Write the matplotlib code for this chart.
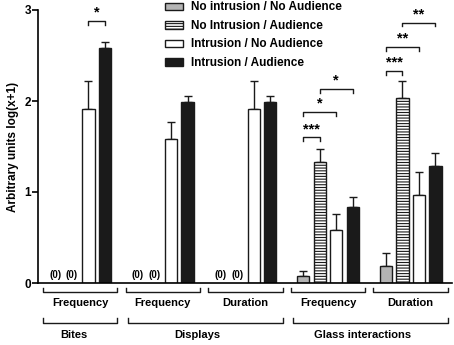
import matplotlib.pyplot as plt
import matplotlib.patches as mpatches
import numpy as np

plt.rcParams['font.family'] = ['Liberation Sans', 'DejaVu Sans']
plt.rcParams['hatch.linewidth'] = 0.8

# data
measures = ['Frequency', 'Frequency', 'Duration', 'Frequency', 'Duration']
behaviours = ['Bites', 'Displays', 'Glass interactions']
behaviour_groups = [(0, 0), (1, 2), (3, 4)]
series_names = ['No intrusion / No Audience', 'No Intrusion / Audience',
                'Intrusion / No Audience', 'Intrusion / Audience']
no_no = [0, 0, 0, 0.08, 0.19]
no_aud = [0, 0, 0, 1.33, 2.03]
int_no = [1.91, 1.58, 1.91, 0.58, 0.97]
int_aud = [2.58, 1.99, 1.99, 0.84, 1.29]
no_no_err = [0, 0, 0, 0.05, 0.14]
no_aud_err = [0, 0, 0, 0.14, 0.19]
int_no_err = [0.31, 0.19, 0.31, 0.18, 0.25]
int_aud_err = [0.07, 0.06, 0.07, 0.11, 0.14]
# (group, bar a, bar b, height, label)
signif = [(0, 2, 3, 2.88, '*'),
          (3, 0, 1, 1.60, '***'), (3, 0, 2, 1.88, '*'), (3, 1, 3, 2.13, '*'),
          (4, 0, 1, 2.33, '***'), (4, 0, 2, 2.59, '**'), (4, 1, 3, 2.86, '**')]

values = [no_no, no_aud, int_no, int_aud]
errors = [no_no_err, no_aud_err, int_no_err, int_aud_err]
colors = ['#b4b4b4', 'white', 'white', '#1a1a1a']
hatches = [None, '------', None, None]

W, H = 454, 345
fig = plt.figure(figsize=(W / 100, H / 100), dpi=100)
ax = fig.add_axes([38 / W, (H - 283) / H, (452 - 38) / W, (283 - 10) / H])

gap = 5
centers = np.arange(len(measures)) * gap
offsets = [-1.5, -0.5, 0.5, 1.5]
bw = 0.74

for s in range(4):
    xs = centers + offsets[s]
    for i, x in enumerate(xs):
        v = values[s][i]
        if v == 0:
            continue
        ax.bar(x, v, bw, color=colors[s], edgecolor='#1a1a1a', linewidth=1,
               hatch=hatches[s], zorder=2)
        ax.errorbar(x, v, yerr=[[0], [errors[s][i]]], fmt='none',
                    ecolor='#1a1a1a', elinewidth=1, capsize=3, capthick=1, zorder=1)

# zero labels
for i in range(len(measures)):
    if no_no[i] == 0:
        for s in range(2):
            ax.text(centers[i] + offsets[s], 0.035, '(0)', ha='center', va='bottom',
                    fontsize=7, fontweight='bold')

# significance brackets
leg = 0.04
for g, a, b, h, lab in signif:
    xa = centers[g] + offsets[a]
    xb = centers[g] + offsets[b]
    ax.plot([xa, xa, xb, xb], [h - leg, h, h, h - leg], color='#1a1a1a', lw=1)
    ax.text((xa + xb) / 2, h + 0.015, lab, ha='center', va='bottom',
            fontsize=10.5, fontweight='bold')

# category brackets under axis
half = 2.25
for i, m in enumerate(measures):
    x0, x1 = centers[i] - half, centers[i] + half
    ax.plot([x0, x0, x1, x1], [-0.055, -0.1, -0.1, -0.055], color='#1a1a1a',
            lw=1, clip_on=False)
    ax.text(centers[i], -0.22, m, ha='center', va='center', fontsize=8,
            fontweight='bold')
for name, (g0, g1) in zip(behaviours, behaviour_groups):
    x0, x1 = centers[g0] - half, centers[g1] + half
    if g0 > 0:
        x0 += 0.15
    ax.plot([x0, x0, x1, x1], [-0.385, -0.44, -0.44, -0.385], color='#1a1a1a',
            lw=1, clip_on=False)
    ax.text((centers[g0] + centers[g1]) / 2 - 0.4, -0.575, name, ha='center',
            va='center', fontsize=8, fontweight='bold')

ax.set_xlim(-2.55, 22.5)
ax.set_ylim(0, 3)
ax.set_yticks([0, 1, 2, 3])
ax.set_xticks([])
ax.spines['top'].set_visible(False)
ax.spines['right'].set_visible(False)
ax.spines['left'].set_linewidth(1.2)
ax.spines['bottom'].set_linewidth(1.2)
ax.tick_params(axis='y', length=4, width=1.2, labelsize=8.5, pad=1)
for t in ax.get_yticklabels():
    t.set_fontweight('bold')
ax.set_ylabel('Arbitrary units log(x+1)', fontsize=8.5, fontweight='bold', labelpad=4)

handles = [mpatches.Patch(facecolor=colors[s], edgecolor='#1a1a1a', hatch=hatches[s],
                          linewidth=1) for s in range(4)]
fig.legend(handles, series_names, loc='upper left', bbox_to_anchor=(165 / W, 1 - 1.5 / H),
           frameon=False, prop={'weight': 'bold', 'size': 8.5},
           handlelength=1.5, handleheight=0.6, handletextpad=0.7, labelspacing=0.55,
           borderpad=0, borderaxespad=0)

fig.savefig('out.png', dpi=100)
